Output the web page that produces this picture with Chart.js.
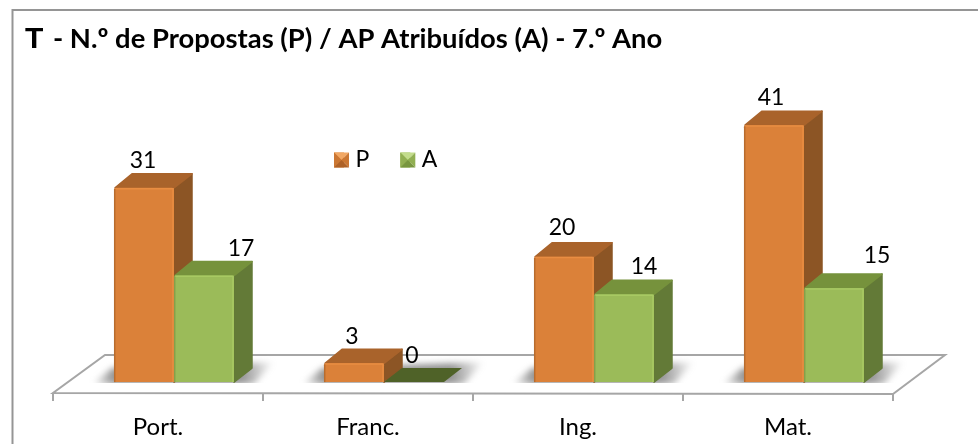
<!DOCTYPE html>
<html><head><meta charset="utf-8">
<style>html,body{margin:0;padding:0;background:#fff}#w{position:relative;width:978px;height:444px}</style>
<script src="https://cdn.jsdelivr.net/npm/chart.js@4"></script></head>
<body><div id="w"><canvas id="c" width="978" height="444"></canvas></div>
<script>
const titleLead = 'T';
const titleRest = '- N.º de Propostas (P) / AP Atribuídos (A) - 7.º Ano';
const categories = ['Port.', 'Franc.', 'Ing.', 'Mat.'];
const seriesNames = ['P', 'A'];
const valuesP = [31, 3, 20, 41];
const valuesA = [17, 0, 14, 15];

const colours = {
  P: {face:'#DB8139', top:'#A9632B', side:'#8C5525', hi:'#E98D42', lo:'#B86C2E', sw:['#F2A864','#CB7733','#CB7733','#AE6228']},
  A: {face:'#9BBB59', top:'#76923C', side:'#637A37', hi:'#A8C963', lo:'#84A04B', zero:'#4F6228', sw:['#C3DC8C','#91AF52','#91AF52','#78963F']}
};
const labelShift = {P:[[-1,-27],[-2,-27],[-2,-29],[-3,-28]], A:[[37,-27],[-2,-27],[20,-28],[43,-33]]};
const depth = {dx:18, dy:14};
const FONT = 'Lato, sans-serif';
const PAD = 31;

function poly(ctx, pts, fill, round){
  ctx.beginPath();
  pts.forEach((p,i)=> i?ctx.lineTo(p[0],p[1]):ctx.moveTo(p[0],p[1]));
  ctx.closePath();
  ctx.fillStyle = fill; ctx.fill();
  if(round){ctx.strokeStyle=fill;ctx.lineWidth=1.5;ctx.lineJoin='round';ctx.stroke();}
}

const scene = {
  id:'scene',
  afterLayout(chart){
    const l = chart.legend;
    const nl = 334-PAD, nt = 148.5-PAD, ddx = nl-l.left;
    l.left = nl; l.right = nl + l.width; l.top = nt; l.bottom = nt + l.height;
    l.legendHitBoxes.forEach(h=>{h.left+=ddx;});
  },
  beforeDraw(chart){
    const {ctx} = chart;
    ctx.save();
    ctx.fillStyle = '#fff'; ctx.fillRect(0,0,978,444);
    ctx.strokeStyle = '#959595'; ctx.lineWidth = 2;
    ctx.beginPath();ctx.moveTo(12.5,444);ctx.lineTo(12.5,10);ctx.lineTo(978,10);ctx.stroke();
    ctx.fillStyle = '#000'; ctx.textBaseline='alphabetic'; ctx.textAlign='left';
    ctx.font = 'bold 30px "Liberation Sans"'; ctx.fillText(titleLead, 25, 48);
    ctx.font = 'bold 27.4px '+FONT; ctx.fillText(titleRest, 53, 48);
    ctx.restore();
  },
  beforeDatasetsDraw(chart){
    const {ctx, chartArea:a, scales:{x,y}} = chart;
    const shift = 16, y0 = a.bottom, backY = y0-39, backDx = 52;
    const catW = x.getPixelForValue(1)-x.getPixelForValue(0);
    const L = a.left-shift, R = a.right-shift;
    ctx.save();
    ctx.lineWidth = 2; ctx.strokeStyle = '#A6A6A6';
    ctx.beginPath();
    ctx.moveTo(L,y0-1); ctx.lineTo(R,y0); ctx.lineTo(R+backDx,backY); ctx.lineTo(L+backDx,backY); ctx.closePath();
    ctx.stroke();
    ctx.beginPath();
    for(let i=0;i<=categories.length;i++){ctx.moveTo(L+i*catW,y0);ctx.lineTo(L+i*catW,y0+7);}
    ctx.stroke();
    const mP = chart.getDatasetMeta(0).data, mA = chart.getDatasetMeta(1).data;
    const base = y.getPixelForValue(0);
    categories.forEach((_,i)=>{
      const l = mP[i].x-mP[i].width/2, r = mA[i].x+mA[i].width/2;
      ctx.save();
      ctx.beginPath();ctx.rect(l-40,base-40,r-l+110,41);ctx.clip();
      ctx.filter = 'blur(3px)';
      const g = ctx.createLinearGradient(l-22,0,r+40,0);
      g.addColorStop(0,'rgba(120,120,120,0)');g.addColorStop(.12,'rgba(120,120,120,.8)');
      g.addColorStop(.82,'rgba(120,120,120,.8)');g.addColorStop(1,'rgba(120,120,120,0)');
      poly(ctx, [[l-22,base+2],[l-2,base-14],[r+40,base-20],[r+20,base+2]], g);
      ctx.restore();
    });
    const {dx,dy} = depth;
    [[mP,colours.P,valuesP],[mA,colours.A,valuesA]].forEach(([m,c,vals])=>{
      m.forEach((b,i)=>{
        const l=b.x-b.width/2, r=b.x+b.width/2, t=b.y;
        if(vals[i]===0){ poly(ctx,[[l,base],[l+dx,base-dy],[r+dx,base-dy],[r,base]],c.zero); return; }
        poly(ctx,[[r,t+1],[r+dx,t-dy],[r+dx,base-dy],[r,base]],c.side,true);
        poly(ctx,[[l+1,t],[l+dx,t-dy],[r+dx,t-dy],[r,t]],c.top,true);
      });
    });
    ctx.restore();
  },
  afterDatasetsDraw(chart){
    const {ctx, scales:{y}} = chart;
    const base = y.getPixelForValue(0);
    ctx.save();
    [[0,colours.P,valuesP,labelShift.P],[1,colours.A,valuesA,labelShift.A]].forEach(([d,c,vals,sh])=>{
      chart.getDatasetMeta(d).data.forEach((b,i)=>{
        const l=b.x-b.width/2, r=b.x+b.width/2, t=b.y;
        if(vals[i]>0){
          ctx.lineWidth=1.5;
          ctx.strokeStyle=c.hi;
          ctx.beginPath();ctx.moveTo(l+1,t+.8);ctx.lineTo(r-1,t+.8);ctx.lineTo(r-1,base);ctx.stroke();
          ctx.strokeStyle=c.lo;
          ctx.beginPath();ctx.moveTo(l+.7,t+1);ctx.lineTo(l+.7,base);ctx.stroke();
        }
        ctx.fillStyle='#000';ctx.font='23px '+FONT;ctx.textAlign='center';ctx.textBaseline='middle';
        ctx.fillText(String(vals[i]), b.x+sh[i][0], t+sh[i][1]);
      });
    });
    ctx.restore();
  },
  afterDraw(chart){
    const {ctx} = chart;
    const l = chart.legend, bw = 15;
    ctx.save();
    l.legendHitBoxes.forEach((h,i)=>{
      const s = i===0?colours.P.sw:colours.A.sw;
      const X=h.left, Y=l.top+PAD+11.5-bw/2, cx=X+bw/2, cy=Y+bw/2;
      poly(ctx,[[X,Y],[X+bw,Y],[cx,cy]],s[0]);
      poly(ctx,[[X,Y],[cx,cy],[X,Y+bw]],s[1]);
      poly(ctx,[[X+bw,Y],[cx,cy],[X+bw,Y+bw]],s[2]);
      poly(ctx,[[X,Y+bw],[X+bw,Y+bw],[cx,cy]],s[3]);
    });
    ctx.restore();
  }
};

new Chart(document.getElementById('c'), {
  type:'bar',
  plugins:[scene],
  data:{labels:categories, datasets:[
    {label:seriesNames[0], data:valuesP, backgroundColor:colours.P.face},
    {label:seriesNames[1], data:valuesA, backgroundColor:colours.A.face}
  ]},
  options:{
    responsive:false, animation:false,
    devicePixelRatio:1,
    layout:{padding:{left:69,right:69,top:0,bottom:0}},
    datasets:{bar:{categoryPercentage:0.5714,barPercentage:1,borderWidth:0,borderRadius:{topLeft:2,topRight:2}}},
    scales:{
      x:{grid:{display:false},border:{display:false},
         ticks:{labelOffset:-16,padding:11,color:'#000',font:{family:FONT,size:24},maxRotation:0},
         afterFit(s){s.height=50;}},
      y:{display:false,min:-1.9,max:50.76}
    },
    plugins:{
      legend:{position:'top',align:'start',
        labels:{boxWidth:10,boxHeight:15,padding:PAD,color:'#000',font:{family:FONT,size:23}}},
      tooltip:{enabled:false},title:{display:false}
    }
  }
});
</script></body></html>
